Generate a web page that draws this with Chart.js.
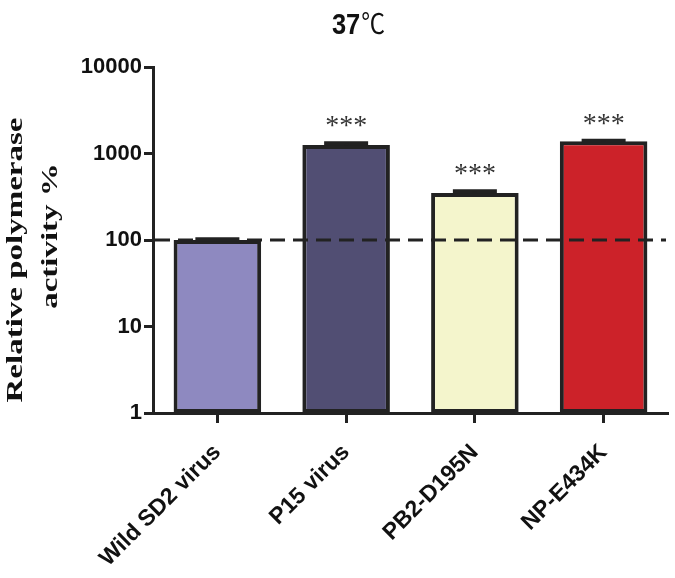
<!DOCTYPE html>
<html>
<head>
<meta charset="utf-8">
<script src="https://cdn.jsdelivr.net/npm/chart.js@4/dist/chart.umd.min.js"></script>
<style>
  html, body { margin: 0; padding: 0; background: #fff; }
  #wrap { width: 675px; height: 578px; }
</style>
</head>
<body>
<div id="wrap"><canvas id="bar-chart" width="675" height="578"></canvas></div>
<script>
let strains = ["Wild SD2 virus", "P15 virus", "PB2-D195N", "NP-E434K"];
let activity = [100, 1250, 350, 1390];
let sem = [2, 60, 15, 15];
let stars = ["", "***", "***", "***"];
let barColors = ["#8e89c0", "#514e73", "#f4f5cc", "#cc2229"];
let yTicks = [1, 10, 100, 1000, 10000];
let yTitle = ["Relative polymerase", "activity %"];
let reference = 100;

// error caps, dashed 100% line, asterisks, titles
const extras = {
  id: 'extras',
  afterDatasetsDraw(chart) {
    const ctx = chart.ctx;
    const x = chart.scales.x, y = chart.scales.y;
    const meta = chart.getDatasetMeta(0);
    ctx.save();
    ctx.strokeStyle = '#222';
    ctx.lineWidth = 4;
    meta.data.forEach((bar, i) => {
      const top = y.getPixelForValue(activity[i] + sem[i]);
      ctx.beginPath();
      ctx.moveTo(bar.x - 22, top);
      ctx.lineTo(bar.x + 22, top);
      ctx.stroke();
      ctx.beginPath();
      ctx.moveTo(bar.x, top);
      ctx.lineTo(bar.x, bar.y);
      ctx.stroke();
    });
    // dashed line at 100 %
    const ry = y.getPixelForValue(reference);
    ctx.setLineDash([15, 8]);
    ctx.lineWidth = 3;
    ctx.beginPath();
    ctx.moveTo(x.left + 2, ry);
    ctx.lineTo(x.right - 2, ry);
    ctx.stroke();
    ctx.setLineDash([]);
    // stars
    ctx.fillStyle = '#333';
    ctx.font = '28px "Liberation Serif", "Times New Roman"';
    ctx.textAlign = 'center';
    ctx.textBaseline = 'alphabetic';
    meta.data.forEach((bar, i) => {
      if (!stars[i]) return;
      const top = y.getPixelForValue(activity[i] + sem[i]);
      ctx.fillText(stars[i], bar.x, top - 9);
    });
    // title 37℃
    ctx.fillStyle = '#111';
    ctx.textAlign = 'left';
    const f1 = 'bold 30px "Liberation Sans", Arial';
    const f2 = '28px "Liberation Serif", "Noto Sans CJK SC"';
    ctx.font = f1;
    const w1 = ctx.measureText('37').width * 0.85;
    ctx.font = f2;
    const w2 = ctx.measureText('℃').width * 0.85;
    const sx = 358 - (w1 + w2) / 2;
    ctx.save();
    ctx.translate(sx, 34);
    ctx.scale(0.85, 1);
    ctx.font = f1;
    ctx.fillText('37', 0, 0);
    ctx.font = f2;
    ctx.fillText('℃', w1 / 0.85 + 1, 0);
    ctx.restore();
    // y axis title, squeezed like the source figure
    ctx.font = 'bold 33px "Liberation Serif", "Times New Roman"';
    ctx.textAlign = 'center';
    ctx.textBaseline = 'middle';
    const cols = [[16, 260], [51, 236]];
    yTitle.forEach((t, i) => {
      ctx.save();
      ctx.translate(cols[i][0], cols[i][1]);
      ctx.scale(0.7, 1);
      ctx.rotate(-Math.PI / 2);
      ctx.fillText(t, 0, 0);
      ctx.restore();
    });
    ctx.restore();
  }
};

var ctx = document.getElementById('bar-chart');
new Chart(ctx, {
  type: 'bar',
  data: {
    labels: strains,
    datasets: [{
      data: activity,
      backgroundColor: barColors,
      borderColor: '#222',
      borderWidth: 4,
      borderSkipped: false,
      barPercentage: 0.68,
      categoryPercentage: 1.0
    }]
  },
  plugins: [extras],
  options: {
    responsive: false,
    animation: false,
    layout: { padding: { top: 67, right: 7, left: 4, bottom: 0 } },
    plugins: {
      legend: { display: false },
      tooltip: { enabled: false }
    },
    scales: {
      x: {
        grid: { drawOnChartArea: false, offset: false, color: '#222', tickLength: 10, tickWidth: 3 },
        border: { color: '#222', width: 3 },
        ticks: {
          color: '#111',
          minRotation: 45,
          maxRotation: 45,
          padding: 16,
          font: { family: '"Liberation Sans", Arial', weight: 'bold', size: 23 }
        },
        afterFit(scale) { scale.height = 165; }
      },
      y: {
        type: 'logarithmic',
        min: 1,
        max: 10000,
        afterBuildTicks(scale) { scale.ticks = yTicks.map(v => ({ value: v })); },
        grid: { drawOnChartArea: false, color: '#222', tickLength: 9, tickWidth: 3 },
        border: { color: '#222', width: 3 },
        ticks: {
          color: '#111',
          padding: 2,
          callback: v => String(v),
          font: { family: '"Liberation Sans", Arial', weight: 'bold', size: 22 }
        },
        afterFit(scale) { scale.width = 149; }
      }
    }
  }
});
</script>
</body>
</html>
